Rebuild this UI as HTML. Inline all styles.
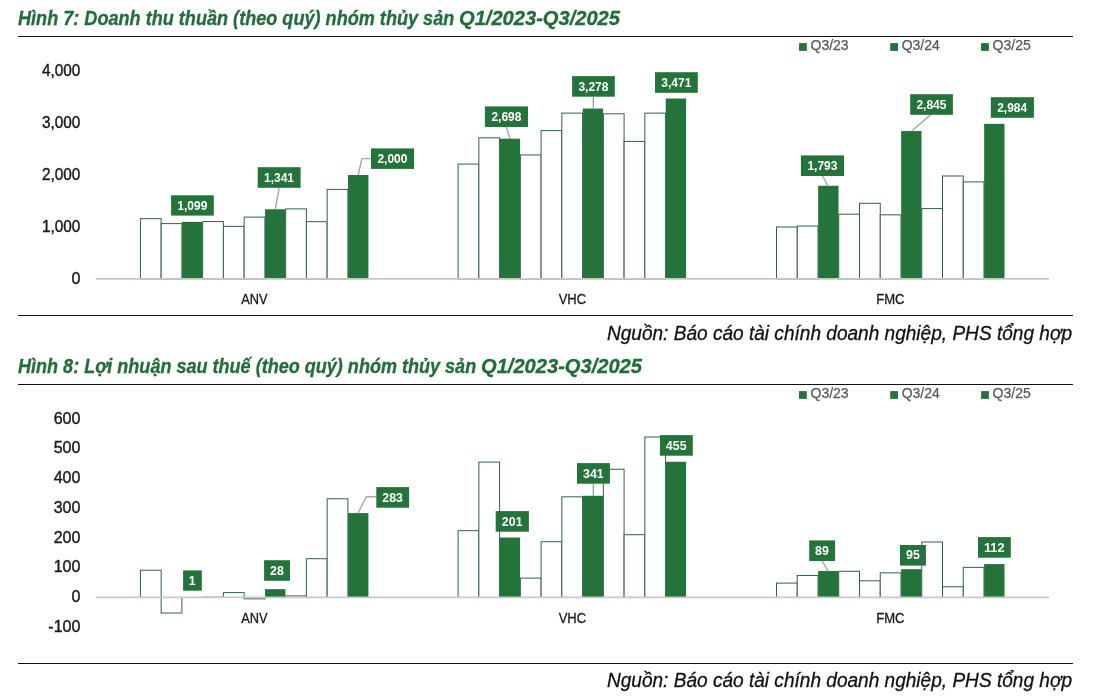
<!DOCTYPE html>
<html lang="vi"><head><meta charset="utf-8"><title>Hình 7 &amp; Hình 8</title>
<style>
html,body{margin:0;padding:0;background:#fff;}
body{width:1095px;height:699px;position:relative;overflow:hidden;font-family:"Liberation Sans",sans-serif;}
#page{position:absolute;left:0;top:0;width:1095px;height:699px;background:#fff;will-change:transform;}
.title{position:absolute;left:18px;white-space:pre;font-size:19.5px;line-height:24px;font-weight:700;font-style:italic;color:#216d39;transform-origin:0 50%;-webkit-text-stroke:0.3px #216d39;}
.src{position:absolute;right:23.5px;white-space:nowrap;font-size:20px;line-height:24px;font-style:italic;color:#111;transform-origin:100% 50%;-webkit-text-stroke:0.3px #111;}
.rule{position:absolute;left:18px;width:1055px;height:0;border-top:1.2px solid #111;}
svg{position:absolute;left:0;top:0;font-family:"Liberation Sans",sans-serif;}
</style></head><body><div id="page">
<svg width="1095" height="699" viewBox="0 0 1095 699">
<g id="chart1">
<rect x="140.40" y="218.68" width="20.75" height="60.32" fill="#fff" stroke="#2f6343" stroke-width="1"/>
<rect x="161.15" y="223.62" width="20.75" height="55.38" fill="#fff" stroke="#2f6343" stroke-width="1"/>
<rect x="202.65" y="221.54" width="20.75" height="57.46" fill="#fff" stroke="#2f6343" stroke-width="1"/>
<rect x="223.40" y="226.38" width="20.75" height="52.62" fill="#fff" stroke="#2f6343" stroke-width="1"/>
<rect x="244.15" y="217.12" width="20.75" height="61.88" fill="#fff" stroke="#2f6343" stroke-width="1"/>
<rect x="285.65" y="208.90" width="20.75" height="70.10" fill="#fff" stroke="#2f6343" stroke-width="1"/>
<rect x="306.40" y="221.70" width="20.75" height="57.30" fill="#fff" stroke="#2f6343" stroke-width="1"/>
<rect x="327.15" y="189.40" width="20.75" height="89.60" fill="#fff" stroke="#2f6343" stroke-width="1"/>
<rect x="458.10" y="164.08" width="20.75" height="114.92" fill="#fff" stroke="#2f6343" stroke-width="1"/>
<rect x="478.85" y="137.82" width="20.75" height="141.18" fill="#fff" stroke="#2f6343" stroke-width="1"/>
<rect x="520.35" y="154.93" width="20.75" height="124.07" fill="#fff" stroke="#2f6343" stroke-width="1"/>
<rect x="541.10" y="130.59" width="20.75" height="148.41" fill="#fff" stroke="#2f6343" stroke-width="1"/>
<rect x="561.85" y="113.12" width="20.75" height="165.88" fill="#fff" stroke="#2f6343" stroke-width="1"/>
<rect x="603.35" y="113.80" width="20.75" height="165.20" fill="#fff" stroke="#2f6343" stroke-width="1"/>
<rect x="624.10" y="141.41" width="20.75" height="137.59" fill="#fff" stroke="#2f6343" stroke-width="1"/>
<rect x="644.85" y="113.12" width="20.75" height="165.88" fill="#fff" stroke="#2f6343" stroke-width="1"/>
<rect x="776.50" y="227.00" width="20.75" height="52.00" fill="#fff" stroke="#2f6343" stroke-width="1"/>
<rect x="797.25" y="226.01" width="20.75" height="52.99" fill="#fff" stroke="#2f6343" stroke-width="1"/>
<rect x="838.75" y="214.21" width="20.75" height="64.79" fill="#fff" stroke="#2f6343" stroke-width="1"/>
<rect x="859.50" y="203.29" width="20.75" height="75.71" fill="#fff" stroke="#2f6343" stroke-width="1"/>
<rect x="880.25" y="214.83" width="20.75" height="64.17" fill="#fff" stroke="#2f6343" stroke-width="1"/>
<rect x="921.75" y="208.59" width="20.75" height="70.41" fill="#fff" stroke="#2f6343" stroke-width="1"/>
<rect x="942.50" y="175.99" width="20.75" height="103.01" fill="#fff" stroke="#2f6343" stroke-width="1"/>
<rect x="963.25" y="181.92" width="20.75" height="97.08" fill="#fff" stroke="#2f6343" stroke-width="1"/>
<rect x="182.05" y="221.85" width="20.35" height="57.15" fill="#23733b"/>
<rect x="265.05" y="209.27" width="20.35" height="69.73" fill="#23733b"/>
<rect x="348.05" y="175.00" width="20.35" height="104.00" fill="#23733b"/>
<rect x="499.75" y="138.70" width="20.35" height="140.30" fill="#23733b"/>
<rect x="582.75" y="108.54" width="20.35" height="170.46" fill="#23733b"/>
<rect x="665.75" y="98.51" width="20.35" height="180.49" fill="#23733b"/>
<rect x="818.15" y="185.76" width="20.35" height="93.24" fill="#23733b"/>
<rect x="901.15" y="131.06" width="20.35" height="147.94" fill="#23733b"/>
<rect x="984.15" y="123.83" width="20.35" height="155.17" fill="#23733b"/>
<line x1="95.6" y1="278.9" x2="1049" y2="278.9" stroke="#c8c8c8" stroke-width="1.9"/>
<polyline points="275.3,209.0 279.2,187.8" fill="none" stroke="#a6a6a6" stroke-width="1.4"/>
<polyline points="358.1,175.0 361.9,158.6 371.2,158.6" fill="none" stroke="#a6a6a6" stroke-width="1.4"/>
<polyline points="510.1,139.0 506.1,126.8" fill="none" stroke="#a6a6a6" stroke-width="1.4"/>
<polyline points="593.3,108.5 593.3,96.5" fill="none" stroke="#a6a6a6" stroke-width="1.4"/>
<polyline points="828.1,186.0 822.5,175.8" fill="none" stroke="#a6a6a6" stroke-width="1.4"/>
<polyline points="911.7,131.0 930.8,114.6" fill="none" stroke="#a6a6a6" stroke-width="1.4"/>
<rect x="171.1" y="195.3" width="42.7" height="20.3" fill="#23733b"/><text x="192.3" y="209.6" font-size="12" font-weight="700" fill="#fff" text-anchor="middle">1,099</text>
<rect x="257.7" y="167.2" width="42.9" height="20.6" fill="#23733b"/><text x="279.0" y="181.7" font-size="12" font-weight="700" fill="#fff" text-anchor="middle">1,341</text>
<rect x="371.0" y="148.4" width="43.1" height="20.5" fill="#23733b"/><text x="392.4" y="162.8" font-size="12" font-weight="700" fill="#fff" text-anchor="middle">2,000</text>
<rect x="484.9" y="106.4" width="43.1" height="20.6" fill="#23733b"/><text x="506.4" y="120.9" font-size="12" font-weight="700" fill="#fff" text-anchor="middle">2,698</text>
<rect x="572.1" y="76.1" width="42.7" height="20.6" fill="#23733b"/><text x="593.4" y="90.6" font-size="12" font-weight="700" fill="#fff" text-anchor="middle">3,278</text>
<rect x="655.0" y="72.2" width="42.8" height="20.6" fill="#23733b"/><text x="676.3" y="86.7" font-size="12" font-weight="700" fill="#fff" text-anchor="middle">3,471</text>
<rect x="800.9" y="155.4" width="43.1" height="20.6" fill="#23733b"/><text x="822.4" y="169.8" font-size="12" font-weight="700" fill="#fff" text-anchor="middle">1,793</text>
<rect x="910.2" y="94.2" width="42.7" height="20.6" fill="#23733b"/><text x="931.4" y="108.7" font-size="12" font-weight="700" fill="#fff" text-anchor="middle">2,845</text>
<rect x="990.8" y="97.2" width="43.1" height="20.6" fill="#23733b"/><text x="1012.2" y="111.7" font-size="12" font-weight="700" fill="#fff" text-anchor="middle">2,984</text>
<rect x="799" y="43.1" width="7.8" height="7.8" fill="#23733b"/>
<text x="810.5" y="50.3" font-size="14" fill="#595959" stroke="#595959" stroke-width="0.25">Q3/23</text>
<rect x="890.2" y="43.1" width="7.8" height="7.8" fill="#23733b"/>
<text x="901.7" y="50.3" font-size="14" fill="#595959" stroke="#595959" stroke-width="0.25">Q3/24</text>
<rect x="981.1" y="43.1" width="7.8" height="7.8" fill="#23733b"/>
<text x="992.6" y="50.3" font-size="14" fill="#595959" stroke="#595959" stroke-width="0.25">Q3/25</text>
<text x="80.4" y="75.8" font-size="16" fill="#1a1a1a" stroke="#1a1a1a" stroke-width="0.4" text-anchor="end" textLength="38.4" lengthAdjust="spacingAndGlyphs">4,000</text>
<text x="80.4" y="127.8" font-size="16" fill="#1a1a1a" stroke="#1a1a1a" stroke-width="0.4" text-anchor="end" textLength="38.4" lengthAdjust="spacingAndGlyphs">3,000</text>
<text x="80.4" y="179.8" font-size="16" fill="#1a1a1a" stroke="#1a1a1a" stroke-width="0.4" text-anchor="end" textLength="38.4" lengthAdjust="spacingAndGlyphs">2,000</text>
<text x="80.4" y="231.8" font-size="16" fill="#1a1a1a" stroke="#1a1a1a" stroke-width="0.4" text-anchor="end" textLength="38.4" lengthAdjust="spacingAndGlyphs">1,000</text>
<text x="80.4" y="283.8" font-size="16" fill="#1a1a1a" stroke="#1a1a1a" stroke-width="0.4" text-anchor="end">0</text>
<text x="254.4" y="303.7" font-size="13.8" fill="#1a1a1a" stroke="#1a1a1a" stroke-width="0.3" text-anchor="middle" textLength="26.3" lengthAdjust="spacingAndGlyphs">ANV</text>
<text x="572.4" y="303.7" font-size="13.8" fill="#1a1a1a" stroke="#1a1a1a" stroke-width="0.3" text-anchor="middle" textLength="27.4" lengthAdjust="spacingAndGlyphs">VHC</text>
<text x="890.4" y="303.7" font-size="13.8" fill="#1a1a1a" stroke="#1a1a1a" stroke-width="0.3" text-anchor="middle" textLength="28.3" lengthAdjust="spacingAndGlyphs">FMC</text>
</g>
<g id="chart2">
<rect x="140.40" y="570.21" width="20.75" height="27.29" fill="#fff" stroke="#2f6343" stroke-width="1"/>
<rect x="161.15" y="597.50" width="20.75" height="15.51" fill="#fff" stroke="#2f6343" stroke-width="1"/>
<rect x="202.65" y="597.20" width="20.75" height="0.30" fill="#fff" stroke="#2f6343" stroke-width="1"/>
<rect x="223.40" y="592.61" width="20.75" height="4.89" fill="#fff" stroke="#2f6343" stroke-width="1"/>
<rect x="244.15" y="597.50" width="20.75" height="1.34" fill="#fff" stroke="#2f6343" stroke-width="1"/>
<rect x="285.65" y="595.89" width="20.75" height="1.61" fill="#fff" stroke="#2f6343" stroke-width="1"/>
<rect x="306.40" y="558.72" width="20.75" height="38.78" fill="#fff" stroke="#2f6343" stroke-width="1"/>
<rect x="327.15" y="498.76" width="20.75" height="98.74" fill="#fff" stroke="#2f6343" stroke-width="1"/>
<rect x="458.10" y="530.68" width="20.75" height="66.82" fill="#fff" stroke="#2f6343" stroke-width="1"/>
<rect x="478.85" y="462.07" width="20.75" height="135.43" fill="#fff" stroke="#2f6343" stroke-width="1"/>
<rect x="520.35" y="578.11" width="20.75" height="19.39" fill="#fff" stroke="#2f6343" stroke-width="1"/>
<rect x="541.10" y="541.72" width="20.75" height="55.78" fill="#fff" stroke="#2f6343" stroke-width="1"/>
<rect x="561.85" y="496.82" width="20.75" height="100.68" fill="#fff" stroke="#2f6343" stroke-width="1"/>
<rect x="603.35" y="469.23" width="20.75" height="128.27" fill="#fff" stroke="#2f6343" stroke-width="1"/>
<rect x="624.10" y="534.71" width="20.75" height="62.79" fill="#fff" stroke="#2f6343" stroke-width="1"/>
<rect x="644.85" y="437.01" width="20.75" height="160.49" fill="#fff" stroke="#2f6343" stroke-width="1"/>
<rect x="776.50" y="583.09" width="20.75" height="14.41" fill="#fff" stroke="#2f6343" stroke-width="1"/>
<rect x="797.25" y="575.49" width="20.75" height="22.01" fill="#fff" stroke="#2f6343" stroke-width="1"/>
<rect x="838.75" y="571.25" width="20.75" height="26.25" fill="#fff" stroke="#2f6343" stroke-width="1"/>
<rect x="859.50" y="580.80" width="20.75" height="16.70" fill="#fff" stroke="#2f6343" stroke-width="1"/>
<rect x="880.25" y="572.86" width="20.75" height="24.64" fill="#fff" stroke="#2f6343" stroke-width="1"/>
<rect x="921.75" y="542.02" width="20.75" height="55.48" fill="#fff" stroke="#2f6343" stroke-width="1"/>
<rect x="942.50" y="586.76" width="20.75" height="10.74" fill="#fff" stroke="#2f6343" stroke-width="1"/>
<rect x="963.25" y="567.37" width="20.75" height="30.13" fill="#fff" stroke="#2f6343" stroke-width="1"/>
<rect x="182.05" y="597.20" width="20.35" height="0.30" fill="#23733b"/>
<rect x="265.05" y="589.15" width="20.35" height="8.35" fill="#23733b"/>
<rect x="348.05" y="513.08" width="20.35" height="84.42" fill="#23733b"/>
<rect x="499.75" y="537.54" width="20.35" height="59.96" fill="#23733b"/>
<rect x="582.75" y="495.78" width="20.35" height="101.72" fill="#23733b"/>
<rect x="665.75" y="461.77" width="20.35" height="135.73" fill="#23733b"/>
<rect x="818.15" y="570.95" width="20.35" height="26.55" fill="#23733b"/>
<rect x="901.15" y="569.16" width="20.35" height="28.34" fill="#23733b"/>
<rect x="984.15" y="564.09" width="20.35" height="33.41" fill="#23733b"/>
<line x1="95.6" y1="597.4" x2="1049" y2="597.4" stroke="#c8c8c8" stroke-width="1.9"/>
<polyline points="357.7,513.5 366.3,496.7 376.5,496.7" fill="none" stroke="#a6a6a6" stroke-width="1.4"/>
<polyline points="593.3,496.0 593.3,483.5" fill="none" stroke="#a6a6a6" stroke-width="1.4"/>
<polyline points="828.1,571.4 822.2,560.8" fill="none" stroke="#a6a6a6" stroke-width="1.4"/>
<rect x="183.1" y="570.4" width="18.7" height="20.3" fill="#23733b"/><text x="192.3" y="584.7" font-size="12" font-weight="700" fill="#fff" text-anchor="middle" textLength="6.9" lengthAdjust="spacingAndGlyphs">1</text>
<rect x="264.1" y="560.2" width="25.9" height="20.6" fill="#23733b"/><text x="276.9" y="574.6" font-size="12" font-weight="700" fill="#fff" text-anchor="middle" textLength="13.8" lengthAdjust="spacingAndGlyphs">28</text>
<rect x="376.3" y="487.1" width="32.8" height="20.6" fill="#23733b"/><text x="392.6" y="501.5" font-size="12" font-weight="700" fill="#fff" text-anchor="middle" textLength="20.7" lengthAdjust="spacingAndGlyphs">283</text>
<rect x="495.7" y="511.1" width="33.2" height="20.6" fill="#23733b"/><text x="512.2" y="525.6" font-size="12" font-weight="700" fill="#fff" text-anchor="middle" textLength="20.7" lengthAdjust="spacingAndGlyphs">201</text>
<rect x="577.0" y="463.1" width="32.9" height="20.6" fill="#23733b"/><text x="593.4" y="477.5" font-size="12" font-weight="700" fill="#fff" text-anchor="middle" textLength="20.7" lengthAdjust="spacingAndGlyphs">341</text>
<rect x="659.9" y="435.1" width="32.9" height="20.6" fill="#23733b"/><text x="676.2" y="449.5" font-size="12" font-weight="700" fill="#fff" text-anchor="middle" textLength="20.7" lengthAdjust="spacingAndGlyphs">455</text>
<rect x="809.2" y="540.4" width="25.9" height="20.6" fill="#23733b"/><text x="822.0" y="554.9" font-size="12" font-weight="700" fill="#fff" text-anchor="middle" textLength="13.8" lengthAdjust="spacingAndGlyphs">89</text>
<rect x="900.0" y="545.0" width="25.9" height="20.6" fill="#23733b"/><text x="912.9" y="559.4" font-size="12" font-weight="700" fill="#fff" text-anchor="middle" textLength="13.8" lengthAdjust="spacingAndGlyphs">95</text>
<rect x="978.0" y="537.1" width="32.8" height="20.6" fill="#23733b"/><text x="994.3" y="551.6" font-size="12" font-weight="700" fill="#fff" text-anchor="middle" textLength="20.7" lengthAdjust="spacingAndGlyphs">112</text>
<rect x="799" y="391.1" width="7.8" height="7.8" fill="#23733b"/>
<text x="810.5" y="398.3" font-size="14" fill="#595959" stroke="#595959" stroke-width="0.25">Q3/23</text>
<rect x="890.2" y="391.1" width="7.8" height="7.8" fill="#23733b"/>
<text x="901.7" y="398.3" font-size="14" fill="#595959" stroke="#595959" stroke-width="0.25">Q3/24</text>
<rect x="981.1" y="391.1" width="7.8" height="7.8" fill="#23733b"/>
<text x="992.6" y="398.3" font-size="14" fill="#595959" stroke="#595959" stroke-width="0.25">Q3/25</text>
<text x="80.4" y="423.7" font-size="16" fill="#1a1a1a" stroke="#1a1a1a" stroke-width="0.4" text-anchor="end">600</text>
<text x="80.4" y="453.4" font-size="16" fill="#1a1a1a" stroke="#1a1a1a" stroke-width="0.4" text-anchor="end">500</text>
<text x="80.4" y="483.1" font-size="16" fill="#1a1a1a" stroke="#1a1a1a" stroke-width="0.4" text-anchor="end">400</text>
<text x="80.4" y="512.8" font-size="16" fill="#1a1a1a" stroke="#1a1a1a" stroke-width="0.4" text-anchor="end">300</text>
<text x="80.4" y="542.5" font-size="16" fill="#1a1a1a" stroke="#1a1a1a" stroke-width="0.4" text-anchor="end">200</text>
<text x="80.4" y="572.1" font-size="16" fill="#1a1a1a" stroke="#1a1a1a" stroke-width="0.4" text-anchor="end">100</text>
<text x="80.4" y="601.9" font-size="16" fill="#1a1a1a" stroke="#1a1a1a" stroke-width="0.4" text-anchor="end">0</text>
<text x="80.4" y="631.6" font-size="16" fill="#1a1a1a" stroke="#1a1a1a" stroke-width="0.4" text-anchor="end">-100</text>
<text x="254.4" y="622.7" font-size="13.8" fill="#1a1a1a" stroke="#1a1a1a" stroke-width="0.3" text-anchor="middle" textLength="26.3" lengthAdjust="spacingAndGlyphs">ANV</text>
<text x="572.4" y="622.7" font-size="13.8" fill="#1a1a1a" stroke="#1a1a1a" stroke-width="0.3" text-anchor="middle" textLength="27.4" lengthAdjust="spacingAndGlyphs">VHC</text>
<text x="890.4" y="622.7" font-size="13.8" fill="#1a1a1a" stroke="#1a1a1a" stroke-width="0.3" text-anchor="middle" textLength="28.3" lengthAdjust="spacingAndGlyphs">FMC</text>
</g>
</svg>
<div class="title" id="t1" style="top:6.3px;transform:scaleX(0.928)">Hình 7: Doanh thu thuần (theo quý) nhóm thủy sản </div><div class="title" id="t1b" style="top:6.3px;left:459.3px;transform:scaleX(1.031)">Q1/2023-Q3/2025</div>
<div class="rule" style="top:35.9px"></div>
<div class="rule" style="top:314.8px"></div>
<div class="src" id="s1" style="top:321px;transform:scaleX(0.953)">Nguồn: Báo cáo tài chính doanh nghiệp, PHS tổng hợp</div>
<div class="title" id="t2" style="top:354.4px;transform:scaleX(0.9253)">Hình 8: Lợi nhuận sau thuế (theo quý) nhóm thủy sản </div><div class="title" id="t2b" style="top:354.4px;left:481.2px;transform:scaleX(1.031)">Q1/2023-Q3/2025</div>
<div class="rule" style="top:383.9px"></div>
<div class="rule" style="top:662.8px"></div>
<div class="src" id="s2" style="top:668.4px;transform:scaleX(0.953)">Nguồn: Báo cáo tài chính doanh nghiệp, PHS tổng hợp</div>
</div></body></html>
